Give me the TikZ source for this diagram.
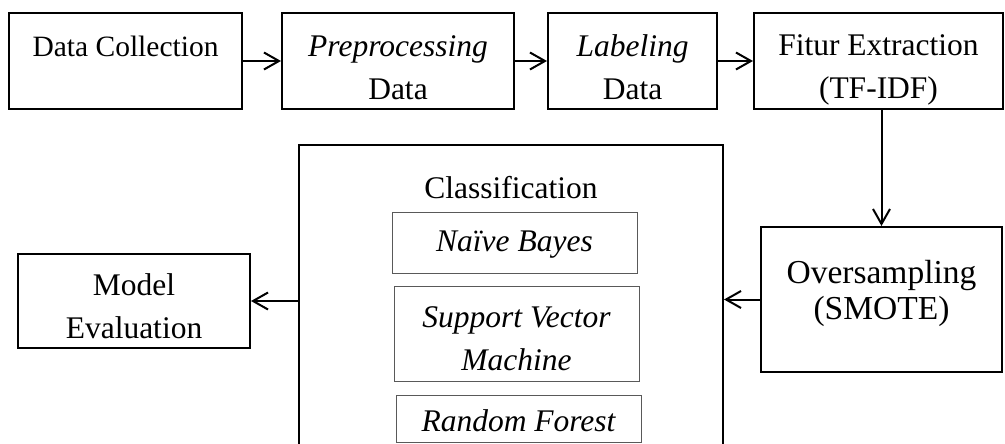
\documentclass[tikz,border=0pt]{standalone}
\usepackage{fontspec}
\setmainfont{Liberation Serif}
\usetikzlibrary{arrows.meta,positioning}

\newcommand{\boxfont}{\fontsize{31.5}{43}\selectfont}
\newcommand{\smallboxfont}{\fontsize{29.5}{43}\selectfont}
\newcommand{\smotefont}{\fontsize{33.5}{36}\selectfont}
% invisible rule that sets the height of a first line
\newcommand{\tstrut}[1]{\rule{0pt}{#1pt}}

\begin{document}
\begin{tikzpicture}[x=1pt, y=-1pt,
    stage/.style={draw, line width=2pt, align=center, inner sep=0pt, font=\boxfont},
    algo/.style={draw=black!65, line width=1pt, align=center, inner sep=0pt, font=\boxfont\itshape},
    arrow/.style={-{Straight Barb[length=15pt,width=17pt]}, line width=2pt}
]
\useasboundingbox (0,0) rectangle (1005,444);
% top row
\node[stage, font=\smallboxfont, minimum width=233pt, minimum height=96pt] (collect) at (125.5,61) {\tstrut{35}Data Collection\\\phantom{D}};
\node[stage, minimum width=232pt, minimum height=96pt] (prep) at (398,61) {\tstrut{34}\textit{Preprocessing}\\Data};
\node[stage, minimum width=169pt, minimum height=96pt] (label) at (632.5,61) {\tstrut{34}\textit{Labeling}\\Data};
\node[stage, minimum width=249pt, minimum height=96pt] (fitur) at (878.5,61) {\tstrut{38}Fitur Extraction\\(TF-IDF)};
% lower row
\node[stage, font=\smotefont, minimum width=241pt, minimum height=145pt] (smote) at (881.5,299.5) {Oversampling\\(SMOTE)\\[-16pt]\mbox{}};
\node[stage, minimum width=424pt, minimum height=330pt] (classif) at (511,310) {};
\node[font=\boxfont, anchor=base] (clstitle) at (511,198) {Classification};
\node[algo, minimum width=245pt, minimum height=61pt] (nb) at (514.5,242.5) {\tstrut{25}Naïve Bayes};
\node[algo, minimum width=245pt, minimum height=95pt] (svm) at (516.5,333.5) {\tstrut{31}Support Vector\\Machine};
\node[algo, minimum width=245pt, minimum height=47pt] (rf) at (518.5,418.5) {\tstrut{27}Random Forest};
\node[stage, minimum width=232pt, minimum height=94pt] (eval) at (134,301) {\tstrut{33}Model\\Evaluation};
% connectors
\draw[arrow] (collect) -- (prep);
\draw[arrow] (prep) -- (label);
\draw[arrow] (label) -- (fitur);
\draw[arrow] (smote.north |- fitur.south) -- (smote.north);
\draw[arrow] (smote.west) -- (smote.west -| classif.east);
\draw[arrow] (eval.east -| classif.west) -- (eval.east);
\end{tikzpicture}
\end{document}
